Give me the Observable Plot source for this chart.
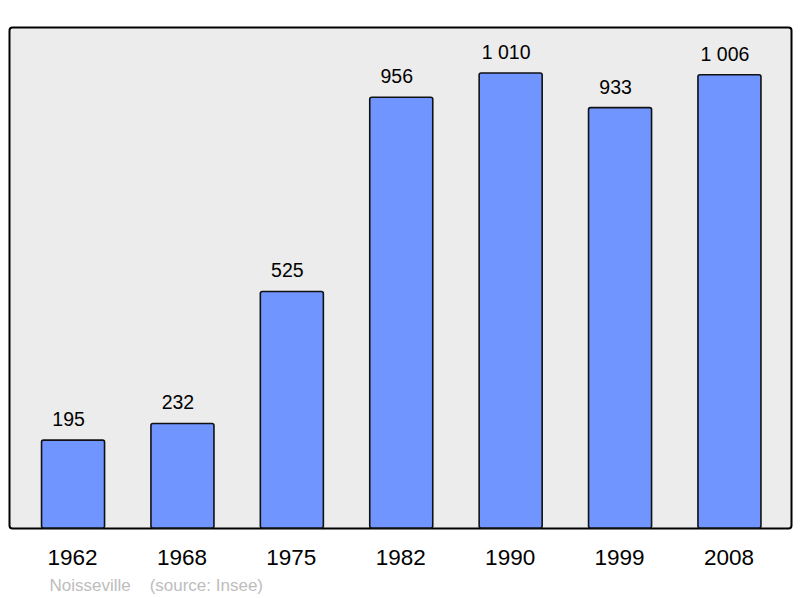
<!DOCTYPE html>
<html>
<head>
<meta charset="utf-8">
<script src="https://cdn.jsdelivr.net/npm/d3@7"></script>
<script src="https://cdn.jsdelivr.net/npm/@observablehq/plot@0.6"></script>
<style>
  html, body { margin: 0; padding: 0; background: #fff; }
  svg { font-family: "Liberation Sans", Arial, sans-serif; }
</style>
</head>
<body>
<div id="chart"></div>
<script>
const years = ["1962", "1968", "1975", "1982", "1990", "1999", "2008"];
const population = [195, 232, 525, 956, 1010, 933, 1006];
const valueLabels = ["195", "232", "525", "956", "1 010", "933", "1 006"];
const captionText = "Noisseville\u00a0\u00a0\u00a0\u00a0(source: Insee)";

const data = years.map((y, i) => ({year: y, value: population[i], label: valueLabels[i]}));

const chart = Plot.plot({
  width: 800,
  height: 598,
  marginLeft: 9,
  marginRight: 9,
  marginTop: 27,
  marginBottom: 70,
  style: {fontFamily: "'Liberation Sans', Arial, sans-serif", background: "#ffffff"},
  x: {domain: years, paddingInner: 0.424, paddingOuter: 0.286, align: 0.52, round: false, label: null},
  y: {domain: [0, 1112], axis: null},
  marks: [
    Plot.frame({fill: "#ececec", stroke: "#000", strokeWidth: 2, rx: 3}),
    Plot.barY(data, {x: "year", y: "value", fill: "#7095ff", stroke: "#111", strokeWidth: 1.6, rx: 2}),
    Plot.text(data, {x: "year", y: "value", text: "label", lineAnchor: "bottom", dx: -5, dy: -14.5, fontSize: 19.5, fill: "#000"}),
    Plot.axisX({tickSize: 0, tickPadding: 21, fontSize: 22.5, dx: -1, label: null}),
    Plot.text([captionText], {text: d => d, frameAnchor: "bottom-left", textAnchor: "start", lineAnchor: "bottom", dx: 40, dy: 62, fontSize: 17, fill: "#bdbdbd"})
  ]
});
document.getElementById("chart").appendChild(chart);
</script>
</body>
</html>
